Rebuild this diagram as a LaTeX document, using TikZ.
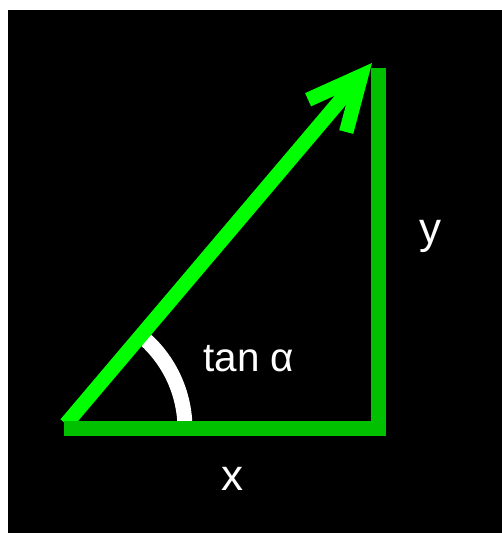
\documentclass[tikz,border=0pt]{standalone}
\usepackage{fontspec}
\setmainfont{Liberation Sans}
\usepackage{xcolor}
\usetikzlibrary{arrows.meta}
\definecolor{brightgreen}{RGB}{0,255,0}
\definecolor{darkgreen}{RGB}{0,192,0}
\tikzset{
  leg/.style={draw=darkgreen, line width=0.3cm, line join=miter},
  hyp/.style={draw=brightgreen, line width=0.29cm,
              -{Straight Barb[length=1.05cm, width=1.0cm]}},
  anglearc/.style={draw=white, line width=0.3cm},
  lbl/.style={text=white, inner sep=0pt, font=\fontsize{#1}{#1}\selectfont},
}
\begin{document}
\begin{tikzpicture}[x=0.02cm, y=0.02cm]
  \useasboundingbox (0,0) rectangle (502,533);
  \fill[black] (8,0) rectangle (502,523);

  \coordinate (A) at (64,104);
  \coordinate (B) at (378,104);
  \coordinate (C) at (378,465);
  \coordinate (O) at (66,109);
  \coordinate (tip) at (372,470);

  % angle mark
  \draw[anglearc] ([shift={(0:121)}]A) arc[start angle=0, end angle=50, radius=121];

  \draw[hyp] (O) -- (tip);
  \draw[leg] (A) -- (B) -- (C);

  \node[lbl=23, anchor=base west] (tanlbl) at (203,161) {tan α};
  \node[lbl=25, anchor=base] (xlbl) at (232,42) {x};
  \node[lbl=25, anchor=base] (ylbl) at (430,289) {y};
\end{tikzpicture}
\end{document}
